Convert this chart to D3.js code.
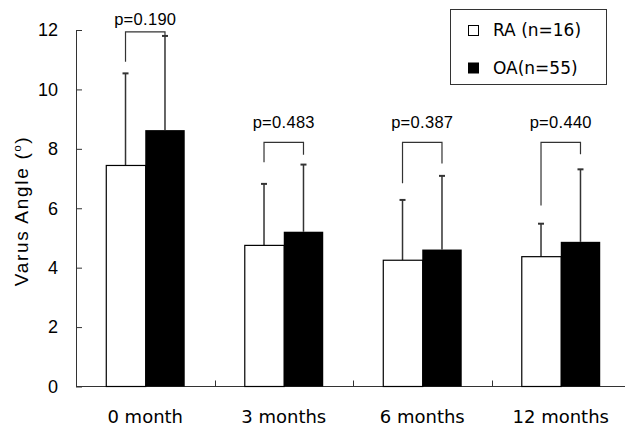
<!DOCTYPE html>
<html><head><meta charset="utf-8">
<script src="https://cdn.jsdelivr.net/npm/d3@7"></script>
<style>body{margin:0;background:#fff}svg{display:block}</style>
</head><body>
<script>
const categories = ["0 month", "3 months", "6 months", "12 months"];
const raMean = [7.44, 4.75, 4.25, 4.37];
const raSD   = [3.10, 2.07, 2.03, 1.11];
const oaMean = [8.63, 5.21, 4.61, 4.87];
const oaSD   = [3.17, 2.26, 2.48, 2.44];
const pLabels = ["p=0.190", "p=0.483", "p=0.387", "p=0.440"];
const bracketTop = [11.94, 8.22, 8.22, 8.22];
const bracketLeftEnd = [10.93, 7.55, 6.84, 6.09];
const bracketRightEnd = [11.80, 7.80, 7.51, 7.82];
const pLabelAt = [12.17, 8.69, 8.69, 8.69];
const yTicks = [0, 2, 4, 6, 8, 10, 12];
const legendLabels = ["RA (n=16)", "OA(n=55)"];

const W = 625, H = 427;
const svg = d3.select("body").append("svg").attr("width", W).attr("height", H);
const x = d3.scaleBand().domain(categories).range([76, 630]).padding(0);
const y = d3.scaleLinear().domain([0, 12]).range([386.5, 30]);
const bw = x.bandwidth() * 0.285;
const ink = "#333";

// y axis
const yAxis = d3.axisLeft(y).tickValues(yTicks).tickSizeInner(-6).tickSizeOuter(0).tickPadding(18);
const gy = svg.append("g").attr("transform", "translate(76,0)").call(yAxis);
gy.select(".domain").attr("stroke", ink);
gy.selectAll(".tick line").attr("stroke", ink);
gy.selectAll(".tick text").attr("font-family", "Liberation Sans, Arial, sans-serif").attr("font-size", 18).attr("fill", "#000");

// x axis baseline and separators
svg.append("line").attr("x1", 76).attr("x2", 625).attr("y1", y(0)).attr("y2", y(0)).attr("stroke", ink);
svg.selectAll("line.sep").data(categories.slice(1)).enter().append("line")
  .attr("x1", d => Math.round(x(d)) + 0.5).attr("x2", d => Math.round(x(d)) + 0.5)
  .attr("y1", y(0)).attr("y2", y(0) - 6).attr("stroke", ink);
svg.selectAll("text.xl").data(categories).enter().append("text")
  .attr("x", d => x(d) + x.bandwidth() / 2).attr("y", 423)
  .attr("text-anchor", "middle").attr("font-family", "DejaVu Sans, sans-serif").attr("font-size", 18)
  .text(d => d);

const cx = d => x(d) + x.bandwidth() / 2;
// error bars (drawn under bars)
function errBars(means, sds, off) {
  categories.forEach((c, i) => {
    const xc = cx(c) + off;
    svg.append("line").attr("x1", xc).attr("x2", xc).attr("y1", y(means[i])).attr("y2", y(means[i] + sds[i])).attr("stroke", ink).attr("stroke-width", 1.5);
    svg.append("line").attr("x1", xc - 3).attr("x2", xc + 3).attr("y1", y(means[i] + sds[i])).attr("y2", y(means[i] + sds[i])).attr("stroke", ink).attr("stroke-width", 2);
  });
}
errBars(raMean, raSD, -bw / 2);
errBars(oaMean, oaSD, bw / 2);

// bars
svg.selectAll("rect.ra").data(categories).enter().append("rect")
  .attr("x", (d) => cx(d) - bw + 0.5).attr("width", bw)
  .attr("y", (d, i) => y(raMean[i])).attr("height", (d, i) => y(0) - y(raMean[i]))
  .attr("fill", "#fff").attr("stroke", "#000").attr("stroke-width", 1.2);
svg.selectAll("rect.oa").data(categories).enter().append("rect")
  .attr("x", (d) => cx(d)).attr("width", bw)
  .attr("y", (d, i) => y(oaMean[i])).attr("height", (d, i) => y(0) - y(oaMean[i]))
  .attr("fill", "#000");

// brackets
categories.forEach((c, i) => {
  const xl = cx(c) - bw / 2, xr = cx(c) + bw / 2;
  const p = d3.path();
  p.moveTo(xl, y(bracketLeftEnd[i]));
  p.lineTo(xl, y(bracketTop[i]));
  p.lineTo(xr, y(bracketTop[i]));
  p.lineTo(xr, y(bracketRightEnd[i]));
  svg.append("path").attr("d", p.toString()).attr("fill", "none").attr("stroke", ink).attr("stroke-width", 1.2);
  svg.append("text").attr("x", cx(c)).attr("y", y(pLabelAt[i]))
    .attr("text-anchor", "middle").attr("font-family", "Liberation Sans, Arial, sans-serif").attr("font-size", 16.5)
    .attr("letter-spacing", 0.3)
    .text(pLabels[i]);
});

// y label
svg.append("text").attr("transform", "translate(28,211) rotate(-90)")
  .attr("text-anchor", "middle").attr("font-family", "Liberation Sans, Arial, sans-serif").attr("font-size", 19)
  .attr("letter-spacing", 1.7)
  .html('Varus Angle (<tspan font-size="11" dy="-7">o</tspan><tspan dy="7">)</tspan>');

// legend
svg.append("rect").attr("x", 450.5).attr("y", 9.5).attr("width", 156).attr("height", 75).attr("fill", "#fff").attr("stroke", ink);
const lg = svg.selectAll("g.lg").data(legendLabels).enter().append("g")
  .attr("transform", (d, i) => `translate(0,${i * 37.5})`);
lg.append("rect").attr("x", (d, i) => 468.5).attr("y", 25.5).attr("width", 10).attr("height", 10)
  .attr("fill", (d, i) => i ? "#000" : "#fff").attr("stroke", "#000");
lg.append("text").attr("x", 493).attr("y", 36).attr("font-family", "DejaVu Sans, sans-serif").attr("font-size", 17).text(d => d);
</script>
</body></html>
